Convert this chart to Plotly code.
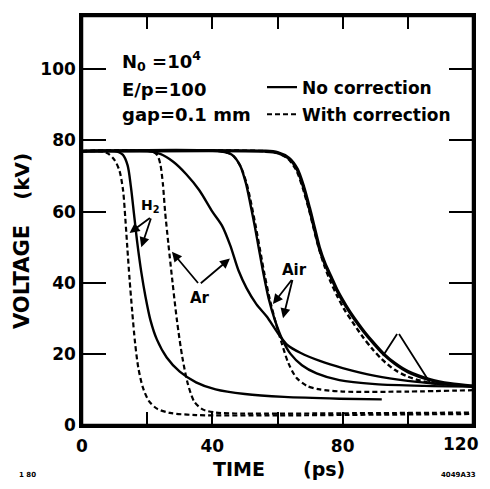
import plotly.graph_objects as go

# ---------------- data ----------------
h2_corr_t = [0, 6, 8, 10, 11.5, 12.6, 13.3, 13.9, 14.6, 15.4, 16.3, 17.3, 18.7, 20.5, 23, 27, 35, 60, 90, 120]
h2_corr_v = [77, 77, 76.3, 74.5, 71.5, 66, 58, 50, 41, 32, 23, 16, 10.5, 6.8, 4.6, 3.4, 2.8, 2.7, 2.9, 3.1]

h2_nc_t = [0, 10, 12.5, 14, 15, 16, 17, 18.2, 19.5, 21, 23, 26, 30, 35, 41, 50, 62, 79, 92]
h2_nc_v = [77, 77, 76, 73, 67, 59, 51, 43, 36, 29.5, 24, 19, 15, 12, 10, 8.7, 7.9, 7.4, 7.2]

ar_corr_t = [0, 21, 23, 24, 24.8, 25.5, 26.5, 27.8, 29.2, 30.8, 32.5, 34.5, 37, 41, 50, 80, 120]
ar_corr_v = [77, 77, 76, 73.5, 68, 60, 51, 40, 29, 19, 11.5, 6.5, 4.4, 3.5, 3.2, 3.3, 3.5]

ar_nc_t = [0, 20, 24, 28, 32, 36, 40, 43, 45.5, 48, 50.5, 53.5, 56.7, 60, 63, 67, 73, 80, 90, 100, 110, 120]
ar_nc_v = [77, 77, 76.2, 74, 70.5, 66, 60, 56, 50.5, 43.5, 38.5, 34, 30.5, 26, 22.5, 20.3, 18, 16, 13.8, 12.4, 11.5, 10.9]

air_nc_t = [0, 42, 46, 48.5, 50.3, 51.7, 53, 54.3, 55.7, 57.3, 59.2, 61.5, 64, 67.5, 72, 79, 90, 105, 120]
air_nc_v = [77, 77, 76, 73, 68, 62, 56, 49.5, 42.5, 35.5, 29.5, 24, 20, 16.8, 14.5, 12.6, 11.5, 11, 10.8]

air_corr_t = [0, 42, 46, 48.5, 50.5, 52, 53.3, 54.6, 56, 57.6, 59.4, 61.3, 63.3, 65.8, 69, 73, 80, 100, 120]
air_corr_v = [77, 77, 76, 73, 68, 62, 56, 49.5, 42.5, 35.5, 29, 23, 17.5, 13.3, 11, 10, 9.4, 9.4, 9.8]

x4_nc_t = [0, 56, 60, 63.5, 66, 68, 69.8, 71.3, 72.8, 74.5, 76.5, 78.5, 81, 83.5, 86.5, 89.5, 92.5, 96, 100, 107, 113, 120]
x4_nc_v = [77, 77, 76.6, 75, 72, 67, 61, 55.5, 50, 45.5, 41.5, 37.5, 33.5, 30, 26.3, 23, 20, 17.3, 15, 12.7, 11.6, 10.9]

x4_corr_t = [0, 56, 60, 63.3, 65.8, 67.8, 69.6, 71.1, 72.6, 74.3, 76.2, 78.2, 80.5, 83, 86, 89, 92, 96, 100, 106, 113, 120]
x4_corr_v = [77, 77, 76.5, 74.8, 71.6, 66.5, 60.8, 55.3, 50, 45, 40.5, 36.5, 32.5, 29, 25, 21.5, 18.5, 15.5, 13.6, 12, 11.2, 11]

x_ticks = [0, 20, 40, 60, 80, 100, 120]
x_tick_text = ["0", "", "40", "", "80", "", ""]
x_last_label = "120"
y_ticks = [0, 20, 40, 60, 80, 100]
y_tick_text = ["0", "20", "40", "60", "80", "100"]

BOLD = dict(family="DejaVu Sans", color="black", weight="bold")
DASH = "5px,3px"

# page geometry: default body margin of 8px, plot area at page x 82..473, y 13..425
FIG_W, FIG_H = 474, 473
PL, PT, PW, PH = 82, 13, 391, 412

def px(xp):
    return (xp - PL) / PW

def py(yp):
    return (PT + PH - yp) / PH

fig = go.Figure()

curves = [
    (h2_corr_t, h2_corr_v, DASH, 2.2, "With correction", True, "b"),
    (h2_nc_t, h2_nc_v, "solid", 2.4, "No correction", True, "a"),
    (ar_corr_t, ar_corr_v, DASH, 2.2, "With correction", False, "b"),
    (ar_nc_t, ar_nc_v, "solid", 2.4, "No correction", False, "a"),
    (air_nc_t, air_nc_v, "solid", 2.4, "No correction", False, "a"),
    (air_corr_t, air_corr_v, DASH, 2.2, "With correction", False, "b"),
    (x4_nc_t, x4_nc_v, "solid", 3.4, "No correction", False, "a"),
    (x4_corr_t, x4_corr_v, DASH, 2.4, "With correction", False, "b"),
]
for t, v, dash, w, name, show, grp in curves:
    fig.add_trace(go.Scatter(
        x=t, y=v, mode="lines", name=name, showlegend=show, legendgroup=grp,
        legendrank=1 if grp == "a" else 2,
        line=dict(color="black", width=w, dash=dash, shape="spline", smoothing=0.8),
        hoverinfo="skip",
    ))

# text labels
def label(x, y, text, size=18, xanchor="left"):
    fig.add_annotation(x=x, y=y, text=text, showarrow=False, xanchor=xanchor,
                       yanchor="middle", font=dict(BOLD, size=size))

label(11.6, 102.4, "N<sub>0</sub> =10<sup>4</sup>")
label(11.6, 94.4, "E/p=100")
label(11.6, 87.2, "gap=0.1 mm")
label(20.9, 61.5, "H<sub>2</sub>", size=14, xanchor="center")
label(36.2, 35.6, "Ar", size=15, xanchor="center")
label(65.3, 43.7, "Air", size=15, xanchor="center")

def arrow(tail, head, headstyle=2):
    fig.add_annotation(x=head[0], y=head[1], ax=tail[0], ay=tail[1],
                       axref="x", ayref="y", xref="x", yref="y", text="",
                       showarrow=True, arrowhead=headstyle, arrowsize=1.1,
                       arrowwidth=1.8, arrowcolor="black", standoff=0)

arrow((21.3, 58.5), (14.6, 54))
arrow((21.3, 58.5), (18.2, 50))
arrow((36.0, 39.5), (27.6, 48.7))
arrow((36.0, 39.5), (45.4, 46.8))
arrow((64.7, 41.2), (58.6, 34))
arrow((64.7, 41.2), (61.7, 30))
arrow((97, 26), (92.4, 19.5), headstyle=0)
arrow((97, 26), (106.7, 12), headstyle=0)

# axis titles and small marks
def paper_text(xp, yp, text, size, angle=0, xanchor="center"):
    fig.add_annotation(xref="paper", yref="paper", x=px(xp), y=py(yp), text=text,
                       textangle=angle, showarrow=False, font=dict(BOLD, size=size),
                       xanchor=xanchor, yanchor="middle")

paper_text(22, 276, "VOLTAGE", 21, -90)
paper_text(22, 175, "(kV)", 20, -90)
paper_text(239, 469, "TIME", 19)
paper_text(324, 469, "(ps)", 19)
paper_text(27, 475, "1 80", 7)
paper_text(458, 475, "4049A33", 7)
# last x tick label, kept inside the page like in the reference
paper_text(481, 444, x_last_label, 17, xanchor="right")

# plot frame
fig.add_shape(type="rect", xref="paper", yref="paper", x0=0, x1=1, y0=0, y1=1,
              line=dict(color="black", width=2.5), layer="above")

axis_common = dict(showline=True, linecolor="black", linewidth=2.5, mirror="ticks",
                   ticks="inside", tickcolor="black", tickwidth=2.2,
                   showgrid=False, zeroline=False,
                   tickfont=dict(BOLD, size=17))

fig.update_xaxes(range=[0, 120], tickvals=x_ticks, ticktext=x_tick_text,
                 ticklen=13, ticklabelstandoff=4, **axis_common)
fig.update_yaxes(range=[0, 115], tickvals=y_ticks, ticktext=y_tick_text,
                 ticklen=24, **axis_common)

fig.update_layout(
    width=FIG_W, height=FIG_H, autosize=False,
    margin=dict(l=PL - 8, r=FIG_W - (PL - 8) - PW, t=PT - 8, b=FIG_H - (PT - 8) - PH),
    paper_bgcolor="white", plot_bgcolor="white",
    showlegend=True,
    legend=dict(x=px(262), y=py(67), xanchor="left", yanchor="top",
                bgcolor="rgba(0,0,0,0)", borderwidth=0,
                font=dict(BOLD, size=17), tracegroupgap=2,
                itemwidth=30),
)

fig.write_html(
    "out.html",
    config={"displayModeBar": False, "responsive": False},
)
